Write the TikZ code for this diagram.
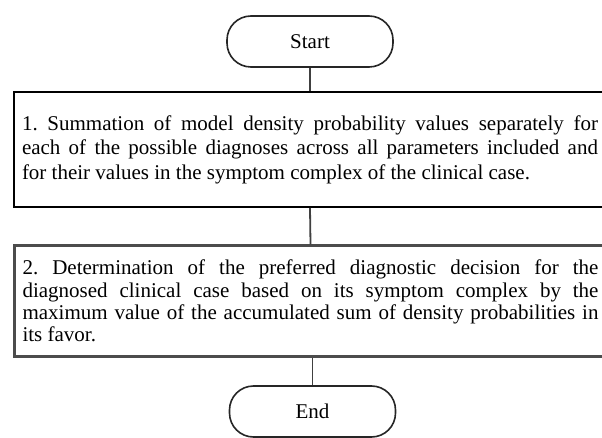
\documentclass[tikz,border=0pt]{standalone}
\usepackage{fontspec}
\setmainfont{Liberation Serif}
\frenchspacing
\begin{document}
\begin{tikzpicture}[x=1pt,y=-1pt,
  terminal/.style={draw=black!85, line width=1.6pt, rounded corners=24pt,
    minimum width=166pt, minimum height=51pt, inner sep=0pt,
    font=\fontsize{21}{24}\selectfont},
  stepbox/.style={draw, line width=2pt, text width=576pt, align=justify,
    inner xsep=8pt, inner ysep=0pt},
  link/.style={draw=black!75, line width=1.8pt}]
  \useasboundingbox (0,0) rectangle (602,438);
  \clip (0,0) rectangle (602,438);
  \fill[white] (0,0) rectangle (602,438);

  \node[terminal] (start) at (310,41.5) {Start};

  \node[stepbox, minimum height=115pt, font=\fontsize{21}{24.5}\selectfont]
    (s1) at (310,149.5)
    {1. Summation of model density probability values separately for\linebreak
     each of the possible diagnoses across all parameters included and\linebreak
     for their values in the symptom complex of the clinical case.};

  \node[stepbox, draw=black!70, line width=3pt, minimum height=110pt,
        font=\fontsize{21}{22.3}\selectfont]
    (s2) at (310.5,301)
    {2. Determination of the preferred diagnostic decision for the\linebreak
     diagnosed clinical case based on its symptom complex by the\linebreak
     maximum value of the accumulated sum of density probabilities in\linebreak
     its favor.};

  \node[terminal] (end) at (312.5,411.5) {End};

  \draw[link] (start.south) -- (start.south |- s1.north);
  \draw[link] (s1.south) -- (s2.north);
  \draw[link] (s2.south -| end.north) -- (end.north);
\end{tikzpicture}
\end{document}
